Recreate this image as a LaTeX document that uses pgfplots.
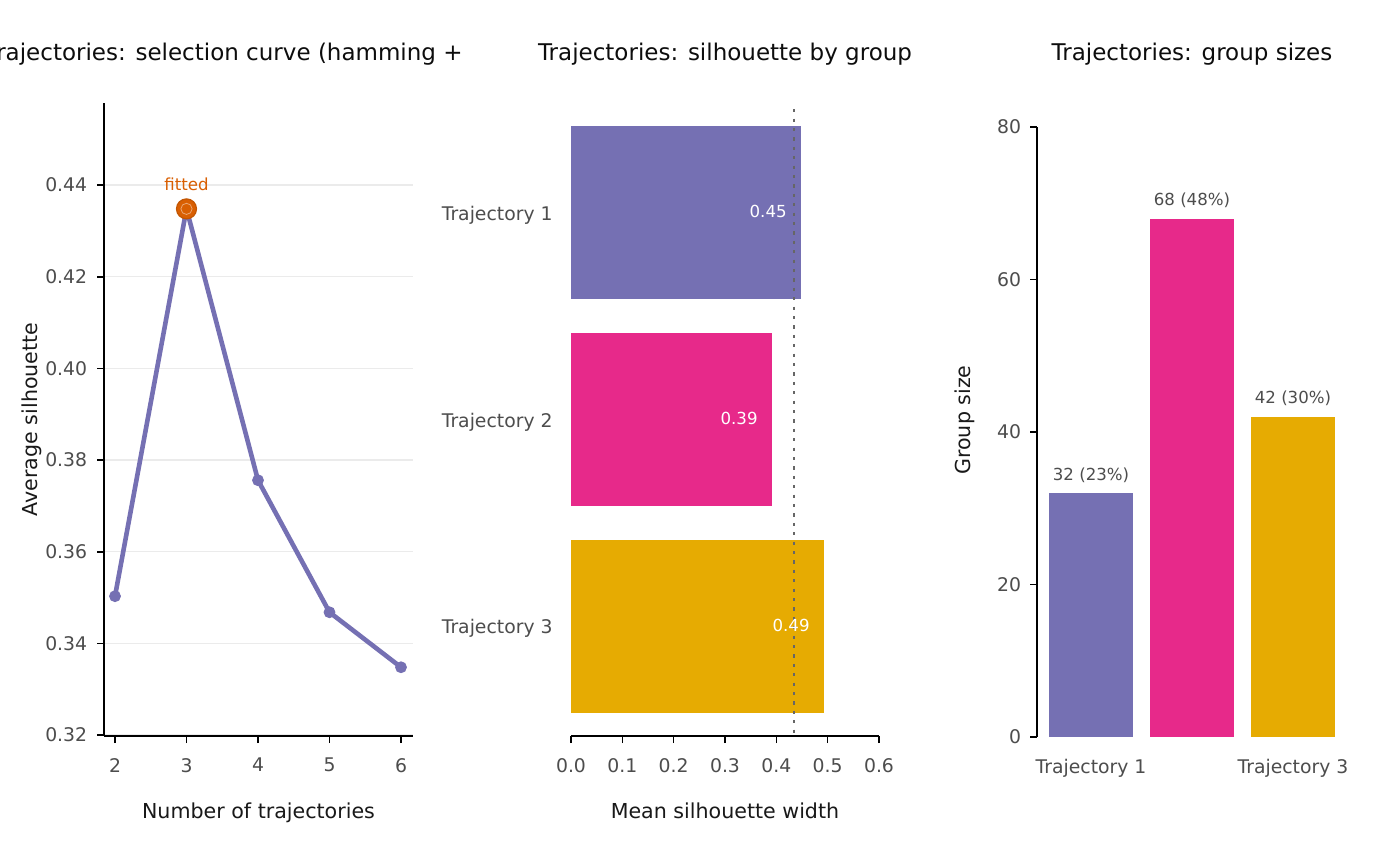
\documentclass[border=0pt]{standalone}
\usepackage{fontspec}
\setmainfont{DejaVu Sans}
\usepackage{pgfplots}
\pgfplotsset{compat=1.18}
\definecolor{cpurple}{HTML}{7570B3}
\definecolor{cmagenta}{HTML}{E7298A}
\definecolor{cyellow}{HTML}{E6AB02}
\definecolor{corange}{HTML}{D95F02}
\definecolor{tickgray}{HTML}{4D4D4D}
\definecolor{gridgray}{HTML}{EBEBEB}
\definecolor{refgray}{HTML}{666666}
\pgfplotsset{
  /pgf/number format/assume math mode=true,
  every axis/.append style={
    scale only axis, clip=false,
    tick align=outside, major tick length=3.5pt,
    tick style={black, line width=0.8pt},
    axis line style={black, line width=0.8pt},
    tick label style={font=\fontsize{9.4}{11}\selectfont, text=tickgray},
    xticklabel style={yshift=-4pt},
    label style={font=\fontsize{10.3}{12}\selectfont, text=black!90},
    xlabel style={at={(axis description cs:0.5,-0.1305)}, anchor=base},
  },
}
\begin{document}
\begin{tikzpicture}[x=1pt,y=1pt]
\fill[white] (0,0) rectangle (700,433);
\useasboundingbox (0,0) rectangle (700,433);

% ---------------- left panel
\begin{axis}[at={(52pt,65pt)}, anchor=south west, width=154.5pt, height=316.5pt,
  xmin=1.846, xmax=6.168, ymin=0.3198, ymax=0.4579,
  axis lines*=left,
  xtick={2,3,4,5,6}, ytick={0.32,0.34,0.36,0.38,0.40,0.42,0.44},
  yticklabel style={/pgf/number format/.cd, fixed, fixed zerofill, precision=2, /tikz/.cd, xshift=-1.4pt},
  ymajorgrids, grid style={gridgray, line width=0.6pt},
  xlabel={Number of trajectories},
  ylabel={Average silhouette},
  ylabel style={at={(axis description cs:-0.233,0.5)}, anchor=center},
]
\addplot[cpurple, line width=2.3pt, mark=*, mark size=2.7pt, mark options={fill=cpurple, draw=cpurple, line width=0.5pt}]
  coordinates {(2,0.3503) (3,0.4348) (4,0.3756) (5,0.3468) (6,0.3348)};
\addplot[only marks, mark=*, mark size=5pt, mark options={fill=corange, draw=corange!90!black, line width=0.6pt},
  nodes near coords={fitted},
  nodes near coords style={anchor=base, yshift=9pt, text=corange, font=\fontsize{8.3}{10}\selectfont, inner sep=0pt}]
  coordinates {(3,0.4348)};
\addplot[only marks, mark=o, mark size=2.8pt, mark options={draw=white, draw opacity=0.45, line width=0.4pt}]
  coordinates {(3,0.4348)};
\end{axis}
\node[anchor=base east, inner sep=0pt, font=\fontsize{11.5}{13}\selectfont, text=black!95] at (231.5,402.5) {Trajectories: selection curve (hamming +};

% ---------------- middle panel
\begin{axis}[at={(285.5pt,65pt)}, anchor=south west, width=154pt, height=316.5pt,
  xmin=0, xmax=0.6, ymin=0.47, ymax=3.53, y dir=reverse,
  axis lines*=left, y axis line style={draw=none},
  ytick={1,2,3}, yticklabels={Trajectory 1,Trajectory 2,Trajectory 3},
  ytick style={draw=none},
  yticklabel style={xshift=-2.2pt, yshift=-1.2pt},
  xtick={0,0.1,0.2,0.3,0.4,0.5,0.6},
  xticklabel style={/pgf/number format/.cd, fixed, fixed zerofill, precision=1},
  bar width=0.836,
  xlabel={Mean silhouette width},
  nodes near coords style={anchor=base east, inner sep=0pt, xshift=-7pt, yshift=-2.4pt, text=white,
     font=\fontsize{8.3}{10}\selectfont,
     /pgf/number format/.cd, fixed, fixed zerofill, precision=2},
]
\addplot[xbar, draw=none, fill=cpurple, bar shift=0pt, nodes near coords, point meta=x] coordinates {(0.4481,1)};
\addplot[xbar, draw=none, fill=cmagenta, bar shift=0pt, nodes near coords, point meta=x] coordinates {(0.3916,2)};
\addplot[xbar, draw=none, fill=cyellow, bar shift=0pt, nodes near coords, point meta=x] coordinates {(0.4929,3)};
\addplot[refgray, line width=1.1pt, dash pattern=on 1.6pt off 3.1pt] coordinates {(0.4348,0.50) (0.4348,3.53)};
\end{axis}
\node[anchor=base, font=\fontsize{11.5}{13}\selectfont, text=black!95] at (362.5,402.5) {Trajectories: silhouette by group};

% ---------------- right panel
\begin{axis}[at={(518.5pt,64.5pt)}, anchor=south west, width=155pt, height=317pt,
  xmin=0.465, xmax=3.535, ymin=0, ymax=83.15,
  axis lines*=left, axis line style={draw=none},
  xtick={1,2,3}, xticklabels={Trajectory 1,,Trajectory 3}, xtick style={draw=none},
  ytick={0,20,40,60,80},
  yticklabel style={xshift=-0.9pt},
  bar width=0.83,
  ylabel={Group size},
  ylabel style={at={(axis description cs:-0.232,0.5)}, anchor=center},
  nodes near coords style={anchor=base, inner sep=0pt, yshift=6.5pt, text=tickgray,
     font=\fontsize{8.3}{10}\selectfont},
]
\draw[black, line width=0.8pt] (rel axis cs:0,0) -- (axis cs:0.465,80);
\addplot[ybar, draw=none, fill=cpurple, bar shift=0pt, nodes near coords, point meta=explicit symbolic] coordinates {(1,32) [32 (23\%)]};
\addplot[ybar, draw=none, fill=cmagenta, bar shift=0pt, nodes near coords, point meta=explicit symbolic] coordinates {(2,68) [68 (48\%)]};
\addplot[ybar, draw=none, fill=cyellow, bar shift=0pt, nodes near coords, point meta=explicit symbolic] coordinates {(3,42) [42 (30\%)]};
\end{axis}
\node[anchor=base, font=\fontsize{11.5}{13}\selectfont, text=black!95] at (596,402.5) {Trajectories: group sizes};
\end{tikzpicture}
\end{document}
